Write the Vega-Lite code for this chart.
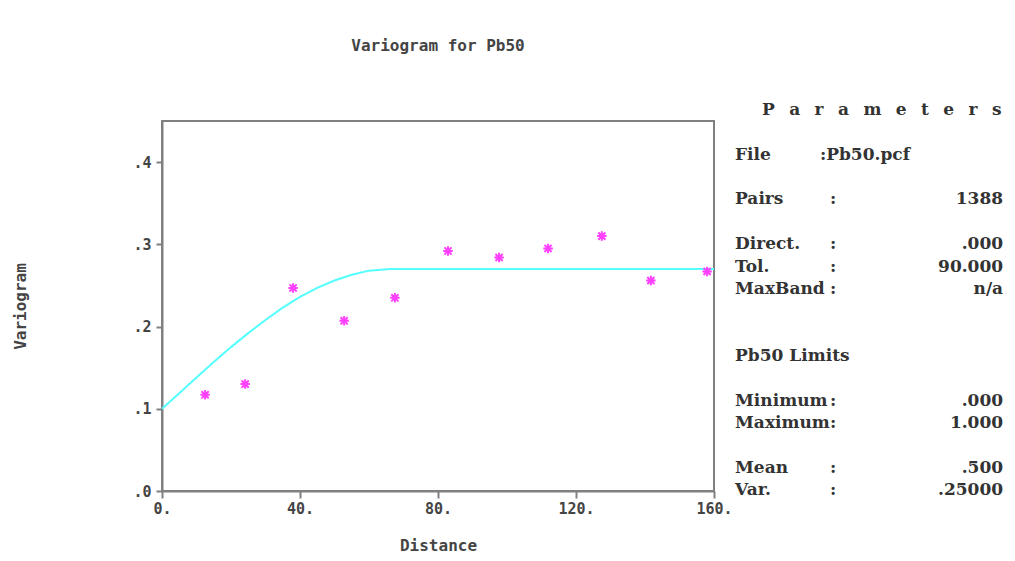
{
  "$schema": "https://vega.github.io/schema/vega-lite/v6.json",
  "width": 552,
  "height": 370,
  "autosize": {"type": "none"},
  "padding": {"left": 162, "top": 121, "right": 301, "bottom": 70},
  "background": "white",
  "title": {
    "text": "Variogram for Pb50",
    "anchor": "middle",
    "offset": 47,
    "font": "DejaVu Sans Mono",
    "fontSize": 16,
    "fontWeight": "bold",
    "color": "#444444"
  },
  "config": {
    "view": {"stroke": "#808080", "strokeWidth": 2},
    "axis": {
      "grid": false,
      "domainColor": "#808080",
      "domainWidth": 2,
      "tickColor": "#808080",
      "tickWidth": 2,
      "labelFont": "DejaVu Sans Mono",
      "labelFontWeight": "bold",
      "labelFontSize": 15,
      "labelColor": "#444444",
      "labelFlush": false,
      "titleFont": "DejaVu Sans Mono",
      "titleFontWeight": "bold",
      "titleFontSize": 16,
      "titleColor": "#444444"
    }
  },
  "resolve": {"scale": {"y": "independent"}},
  "layer": [
    {
      "layer": [
        {
          "data": {
            "values": [
              {"distance": 0, "model": 0.1},
              {"distance": 5, "model": 0.119},
              {"distance": 10, "model": 0.138},
              {"distance": 15, "model": 0.157},
              {"distance": 20, "model": 0.175},
              {"distance": 25, "model": 0.192},
              {"distance": 30, "model": 0.208},
              {"distance": 35, "model": 0.223},
              {"distance": 40, "model": 0.236},
              {"distance": 45, "model": 0.247},
              {"distance": 50, "model": 0.256},
              {"distance": 55, "model": 0.263},
              {"distance": 60, "model": 0.268},
              {"distance": 66, "model": 0.27},
              {"distance": 160, "model": 0.27}
            ]
          },
          "mark": {"type": "line", "color": "#55ffff", "strokeWidth": 2},
          "encoding": {
            "x": {
              "field": "distance",
              "type": "quantitative",
              "scale": {"domain": [0, 160], "nice": false, "zero": false},
              "axis": {
                "values": [0, 40, 80, 120, 160],
                "labelExpr": "datum.value + '.'",
                "tickSize": 7,
                "labelPadding": 3,
                "title": "Distance",
                "titlePadding": 21
              }
            },
            "y": {
              "field": "model",
              "type": "quantitative",
              "scale": {"domain": [0, 0.45], "nice": false},
              "axis": {
                "values": [0, 0.1, 0.2, 0.3, 0.4],
                "labelExpr": "replace(format(datum.value, '.1f'), '0.', '.')",
                "tickSize": 6,
                "labelPadding": 5,
                "title": "Variogram",
                "titlePadding": 104
              }
            }
          }
        },
        {
          "data": {
            "values": [
              {"distance": 12.5, "gamma": 0.117},
              {"distance": 24.1, "gamma": 0.130},
              {"distance": 38.0, "gamma": 0.247},
              {"distance": 52.8, "gamma": 0.207},
              {"distance": 67.5, "gamma": 0.235},
              {"distance": 82.9, "gamma": 0.292},
              {"distance": 97.7, "gamma": 0.284},
              {"distance": 111.9, "gamma": 0.295},
              {"distance": 127.5, "gamma": 0.310},
              {"distance": 141.7, "gamma": 0.256},
              {"distance": 158.0, "gamma": 0.267}
            ]
          },
          "mark": {
            "type": "point",
            "shape": "M-1,0L1,0M0,-1L0,1M-0.75,-0.75L0.75,0.75M-0.75,0.75L0.75,-0.75",
            "size": 90,
            "filled": false,
            "stroke": "#ff40ff",
            "strokeWidth": 2,
            "opacity": 1
          },
          "encoding": {
            "x": {"field": "distance", "type": "quantitative"},
            "y": {"field": "gamma", "type": "quantitative"}
          }
        }
      ]
    },
    {
      "layer": [
        {
          "data": {"values": [{"line": 0, "text": "P\u2002\u00a0a\u2002\u00a0r\u2002\u00a0a\u2002\u00a0m\u2002\u00a0e\u2002\u00a0t\u2002\u00a0e\u2002\u00a0r\u2002\u00a0s"}]},
          "mark": {"type": "text", "align": "left", "baseline": "middle", "font": "DejaVu Serif", "fontWeight": "bold", "fontSize": 17, "color": "#333333"},
          "encoding": {
            "x": {"datum": 173.9, "type": "quantitative"},
            "y": {"field": "line", "type": "quantitative", "scale": {"domain": [0.492, 17.04], "reverse": true, "nice": false, "zero": false}, "axis": null},
            "text": {"field": "text"}
          }
        },
        {
          "data": {
            "values": [
              {"line": 2, "text": "File"},
              {"line": 4, "text": "Pairs"},
              {"line": 6, "text": "Direct."},
              {"line": 7, "text": "Tol."},
              {"line": 8, "text": "MaxBand"},
              {"line": 11, "text": "Pb50 Limits"},
              {"line": 13, "text": "Minimum"},
              {"line": 14, "text": "Maximum"},
              {"line": 16, "text": "Mean"},
              {"line": 17, "text": "Var."}
            ]
          },
          "mark": {"type": "text", "align": "left", "baseline": "middle", "font": "DejaVu Serif", "fontWeight": "bold", "fontSize": 17, "color": "#333333"},
          "encoding": {
            "x": {"datum": 166.1, "type": "quantitative"},
            "y": {"field": "line", "type": "quantitative", "scale": {"domain": [0.492, 17.04], "reverse": true, "nice": false, "zero": false}, "axis": null},
            "text": {"field": "text"}
          }
        },
        {
          "data": {
            "values": [
              {"line": 4, "text": ":"},
              {"line": 6, "text": ":"},
              {"line": 7, "text": ":"},
              {"line": 8, "text": ":"},
              {"line": 13, "text": ":"},
              {"line": 14, "text": ":"},
              {"line": 16, "text": ":"},
              {"line": 17, "text": ":"}
            ]
          },
          "mark": {"type": "text", "align": "center", "baseline": "middle", "font": "DejaVu Serif", "fontWeight": "bold", "fontSize": 17, "color": "#333333"},
          "encoding": {
            "x": {"datum": 194.5, "type": "quantitative"},
            "y": {"field": "line", "type": "quantitative", "scale": {"domain": [0.492, 17.04], "reverse": true, "nice": false, "zero": false}, "axis": null},
            "text": {"field": "text"}
          }
        },
        {
          "data": {"values": [{"line": 2, "text": ":Pb50.pcf"}]},
          "mark": {"type": "text", "align": "left", "baseline": "middle", "font": "DejaVu Serif", "fontWeight": "bold", "fontSize": 17, "color": "#333333"},
          "encoding": {
            "x": {"datum": 190.7, "type": "quantitative"},
            "y": {"field": "line", "type": "quantitative", "scale": {"domain": [0.492, 17.04], "reverse": true, "nice": false, "zero": false}, "axis": null},
            "text": {"field": "text"}
          }
        },
        {
          "data": {
            "values": [
              {"line": 4, "text": "1388"},
              {"line": 6, "text": ".000"},
              {"line": 7, "text": "90.000"},
              {"line": 8, "text": "n/a"},
              {"line": 13, "text": ".000"},
              {"line": 14, "text": "1.000"},
              {"line": 16, "text": ".500"},
              {"line": 17, "text": ".25000"}
            ]
          },
          "mark": {"type": "text", "align": "right", "baseline": "middle", "font": "DejaVu Serif", "fontWeight": "bold", "fontSize": 17, "color": "#333333"},
          "encoding": {
            "x": {"datum": 243.8, "type": "quantitative"},
            "y": {"field": "line", "type": "quantitative", "scale": {"domain": [0.492, 17.04], "reverse": true, "nice": false, "zero": false}, "axis": null},
            "text": {"field": "text"}
          }
        }
      ]
    }
  ]
}
